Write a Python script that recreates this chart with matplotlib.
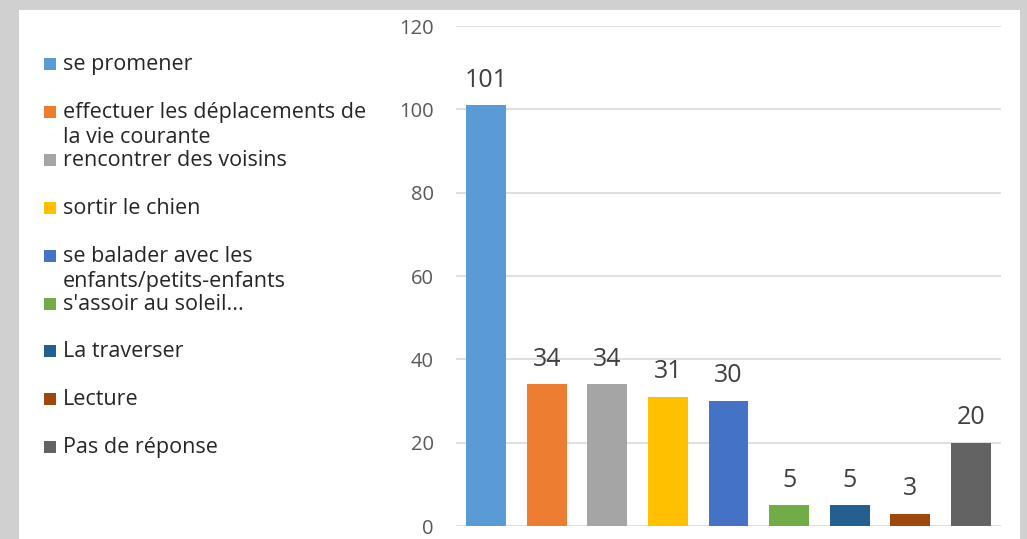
import matplotlib
matplotlib.use("Agg")
import matplotlib.pyplot as plt
from matplotlib.patches import Rectangle

categories = [
    "se promener",
    "effectuer les déplacements de\nla vie courante",
    "rencontrer des voisins",
    "sortir le chien",
    "se balader avec les\nenfants/petits-enfants",
    "s'assoir au soleil...",
    "La traverser",
    "Lecture",
    "Pas de réponse",
]
values = [101, 34, 34, 31, 30, 5, 5, 3, 20]
colors = ["#5B9BD5", "#ED7D31", "#A5A5A5", "#FFC000", "#4472C4",
          "#70AD47", "#255E91", "#9E480E", "#636363"]
yticks = [0, 20, 40, 60, 80, 100, 120]

plt.rcParams['font.family'] = ['Open Sans', 'DejaVu Sans']
W, H = 1027, 539
fig = plt.figure(figsize=(W / 100, H / 100), dpi=100)
fig.patch.set_facecolor("#d0d0d0")
fig.add_artist(Rectangle((19 / W, 0), (1020 - 19) / W, (H - 10) / H,
                         transform=fig.transFigure, facecolor="white",
                         edgecolor="none", zorder=0))

ax = fig.add_axes([456 / W, 13 / H, (1001 - 456) / W, (526 - 26) / H])
ax.set_facecolor("none")
x = list(range(len(values)))
bars = ax.bar(x, values, width=0.66, color=colors, zorder=3)
ax.set_xlim(-0.5, len(values) - 0.5)
ax.set_ylim(0, 120)
ax.set_yticks(yticks)
ax.tick_params(axis="y", length=0, pad=16, labelsize=14.5, labelcolor="#595959")
ax.set_xticks([])
for s in ax.spines.values():
    s.set_visible(False)
ax.grid(axis="y", color="#d9d9d9", linewidth=1.2, zorder=0)
for b, v in zip(bars, values):
    ax.annotate(str(v), (b.get_x() + b.get_width() / 2, v),
                xytext=(0, 9), textcoords="offset points",
                ha="center", va="bottom", fontsize=18, color="#404040")

# legend
y0, dy = 64, 47.9
for i, (lab, c) in enumerate(zip(categories, colors)):
    yy = y0 + i * dy
    fig.add_artist(Rectangle((44 / W, (H - yy - 6) / H), 12 / W, 12 / H,
                             transform=fig.transFigure, facecolor=c,
                             edgecolor="none"))
    for j, line in enumerate(lab.split("\n")):
        fig.text(63 / W, (H - (yy + 6 + 25 * j)) / H, line, ha="left",
                 va="baseline", fontsize=15.5, color="#262626")

fig.savefig("out.png", dpi=100, facecolor=fig.get_facecolor())
